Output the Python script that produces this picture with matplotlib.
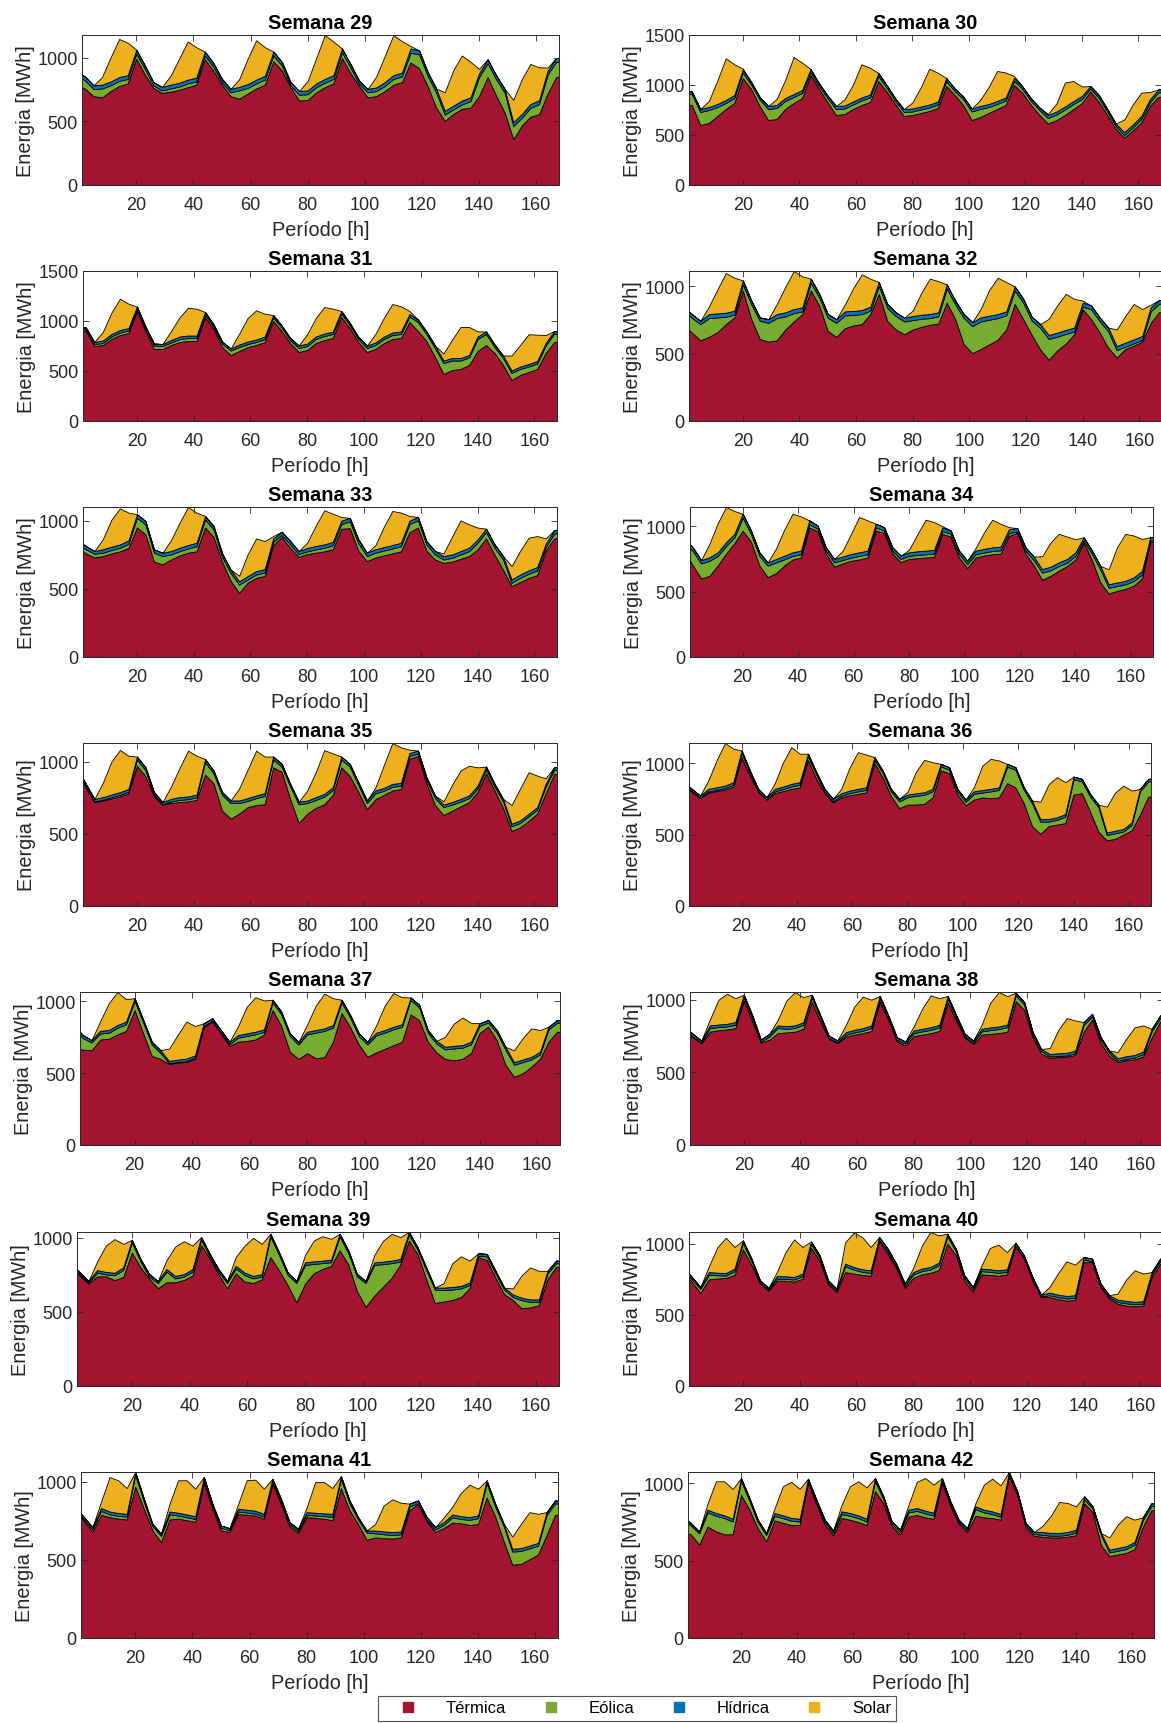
import numpy as np
import matplotlib.pyplot as plt
from matplotlib.lines import Line2D

plt.rcParams['font.family'] = ['Liberation Sans', 'DejaVu Sans']

# Horas de muestreo (cada 3 h) del periodo semanal
horas = np.arange(-1, 171, 3)

# ---- Semana 29 ----
termica_29 = [790,
              760, 700, 690, 740, 780, 800, 995, 870,
              765, 725, 735, 750, 770, 790, 990, 900,
              790, 700, 680, 720, 760, 790, 975, 900,
              770, 665, 670, 730, 770, 800, 1000, 880,
              780, 690, 700, 740, 790, 810, 965, 920,
              780, 610, 505, 560, 600, 610, 700, 850,
              703, 570, 360, 470, 538, 557, 720, 850,
              860]
eolica_29 = [75,
             65, 55, 70, 45, 40, 35, 40, 45,
             20, 20, 25, 25, 30, 25, 30, 32,
             20, 30, 65, 45, 40, 40, 45, 40,
             15, 45, 45, 40, 35, 35, 45, 45,
             17, 40, 40, 40, 45, 45, 75, 110,
             80, 120, 50, 35, 35, 50, 150, 110,
             130, 156, 105, 60, 70, 80, 150, 120,
             110]
hidrica_29 = [30,
              30, 30, 30, 30, 30, 30, 30, 27,
              25, 27, 30, 30, 30, 30, 30, 28,
              25, 27, 28, 30, 30, 30, 30, 28,
              25, 30, 30, 30, 30, 30, 30, 28,
              25, 27, 28, 30, 30, 30, 35, 30,
              30, 30, 30, 30, 30, 30, 30, 30,
              30, 30, 30, 30, 30, 30, 30, 30,
              30]
solar_29 = [0,
            0, 0, 60, 190, 300, 255, 0, 0,
            0, 0, 70, 190, 300, 240, 0, 0,
            0, 0, 60, 200, 310, 225, 0, 0,
            0, 0, 75, 200, 345, 265, 0, 0,
            0, 0, 86, 206, 316, 248, 20, 0,
            0, 0, 145, 280, 355, 280, 35, 0,
            0, 0, 175, 275, 315, 260, 25, 0,
            0]

# ---- Semana 30 ----
termica_30 = [810,
              800, 600, 620, 690, 760, 820, 1070, 960,
              790, 650, 660, 760, 820, 870, 1100, 960,
              830, 700, 710, 760, 800, 830, 1040, 930,
              810, 690, 700, 720, 740, 770, 990, 900,
              800, 650, 680, 720, 760, 800, 1000, 920,
              800, 700, 615, 650, 700, 760, 820, 935,
              830, 700, 560, 475, 545, 625, 790, 880,
              890]
eolica_30 = [110,
             110, 130, 130, 90, 60, 50, 55, 45,
             65, 110, 110, 80, 60, 50, 30, 30,
             40, 60, 55, 45, 45, 45, 50, 40,
             30, 40, 35, 35, 35, 35, 50, 40,
             60, 85, 80, 60, 50, 45, 40, 40,
             40, 50, 55, 55, 55, 50, 40, 30,
             40, 35, 30, 25, 30, 35, 35, 45,
             45]
hidrica_30 = [25,
              25, 30, 30, 30, 30, 30, 30, 25,
              25, 30, 30, 30, 30, 30, 30, 25,
              25, 30, 30, 30, 30, 30, 30, 25,
              25, 30, 30, 30, 30, 30, 30, 25,
              25, 30, 30, 30, 30, 30, 30, 25,
              25, 25, 30, 30, 30, 30, 30, 25,
              30, 25, 25, 30, 30, 30, 30, 30,
              30]
solar_30 = [0,
            0, 0, 60, 233, 417, 307, 10, 0,
            0, 0, 60, 180, 370, 273, 0, 0,
            0, 0, 60, 170, 332, 268, 0, 0,
            0, 0, 60, 192, 358, 288, 0, 0,
            0, 0, 60, 170, 300, 250, 20, 0,
            0, 0, 10, 80, 240, 200, 95, 0,
            0, 0, 0, 125, 200, 233, 75, 0,
            0]

# ---- Semana 31 ----
termica_31 = [900,
              900, 750, 760, 820, 860, 880, 1100, 900,
              720, 720, 760, 790, 800, 800, 1040, 920,
              740, 660, 700, 740, 760, 790, 1000, 900,
              780, 690, 710, 780, 810, 830, 1040, 930,
              790, 690, 720, 780, 820, 830, 990, 900,
              800, 640, 470, 510, 520, 560, 700, 760,
              680, 560, 410, 460, 490, 520, 680, 790,
              780]
eolica_31 = [20,
             15, 20, 20, 25, 25, 25, 20, 25,
             35, 30, 25, 30, 30, 30, 25, 25,
             35, 45, 40, 30, 30, 30, 35, 35,
             30, 40, 40, 40, 40, 40, 35, 30,
             30, 40, 40, 40, 40, 40, 55, 90,
             70, 90, 110, 95, 85, 75, 120, 110,
             60, 70, 70, 60, 55, 55, 75, 85,
             85]
hidrica_31 = [20,
              20, 20, 25, 25, 25, 25, 25, 20,
              20, 20, 25, 25, 25, 25, 25, 20,
              20, 20, 25, 25, 25, 25, 25, 20,
              20, 25, 25, 25, 25, 25, 25, 20,
              20, 25, 25, 25, 25, 25, 25, 25,
              25, 25, 25, 25, 25, 25, 25, 25,
              25, 25, 25, 25, 25, 25, 25, 25,
              25]
solar_31 = [0,
            0, 0, 88, 213, 313, 243, 0, 0,
            0, 0, 90, 192, 278, 268, 0, 0,
            0, 0, 108, 235, 292, 228, 0, 0,
            0, 0, 95, 185, 265, 228, 0, 0,
            0, 0, 85, 188, 285, 252, 30, 0,
            0, 0, 70, 183, 310, 280, 52, 0,
            0, 0, 150, 215, 298, 263, 80, 0,
            0]

# ---- Semana 32 ----
termica_32 = [720,
              657, 600, 625, 660, 720, 770, 970, 757,
              610, 590, 600, 680, 740, 795, 970, 857,
              670, 625, 690, 710, 720, 795, 945, 745,
              680, 645, 680, 700, 715, 725, 880, 757,
              570, 505, 535, 570, 605, 680, 870, 757,
              640, 532, 455, 525, 575, 645, 830, 757,
              657, 545, 472, 535, 560, 590, 730, 810,
              810]
eolica_32 = [105,
             110, 120, 140, 110, 55, 20, 45, 110,
             135, 140, 165, 98, 62, 20, 58, 60,
             97, 105, 95, 78, 75, 25, 58, 97,
             100, 95, 70, 60, 50, 53, 105, 110,
             197, 200, 205, 183, 160, 105, 100, 123,
             107, 160, 155, 102, 72, 20, 20, 73,
             85, 122, 55, 17, 17, 12, 85, 62,
             62]
hidrica_32 = [25,
              28, 25, 30, 30, 30, 30, 30, 28,
              25, 27, 30, 30, 30, 30, 30, 28,
              28, 27, 30, 30, 30, 30, 30, 28,
              28, 28, 30, 30, 30, 30, 30, 28,
              28, 30, 30, 30, 30, 30, 30, 28,
              28, 28, 30, 30, 30, 30, 30, 28,
              28, 28, 30, 30, 30, 30, 30, 28,
              28]
solar_32 = [0,
            0, 0, 55, 177, 295, 245, 0, 0,
            0, 0, 75, 190, 283, 230, 0, 0,
            0, 0, 50, 172, 265, 208, 0, 0,
            0, 0, 42, 162, 263, 232, 0, 0,
            0, 0, 65, 192, 270, 218, 0, 0,
            0, 0, 120, 203, 268, 213, 15, 0,
            0, 0, 123, 198, 263, 200, 20, 0,
            0]

# ---- Semana 33 ----
termica_33 = [800,
              760, 730, 740, 760, 775, 800, 950, 900,
              700, 680, 715, 745, 765, 775, 950, 880,
              700, 560, 470, 545, 580, 595, 820, 880,
              800, 735, 755, 765, 775, 790, 940, 945,
              780, 703, 730, 745, 760, 775, 915, 949,
              780, 715, 690, 700, 720, 740, 790, 870,
              750, 640, 520, 550, 580, 600, 780, 870,
              880]
eolica_33 = [30,
             30, 27, 25, 24, 26, 30, 72, 72,
             65, 60, 37, 31, 31, 38, 59, 56,
             35, 57, 61, 23, 25, 25, 25, 15,
             26, 20, 20, 24, 26, 30, 35, 50,
             55, 37, 35, 36, 36, 38, 60, 53,
             45, 37, 25, 27, 32, 36, 48, 46,
             51, 75, 24, 30, 30, 35, 25, 35,
             35]
hidrica_33 = [25,
              24, 20, 25, 25, 25, 25, 25, 25,
              24, 25, 25, 25, 25, 25, 25, 25,
              25, 25, 25, 25, 25, 25, 25, 24,
              25, 22, 25, 25, 25, 25, 25, 25,
              28, 25, 25, 25, 25, 25, 25, 25,
              25, 25, 25, 25, 25, 25, 25, 25,
              25, 25, 25, 25, 25, 25, 25, 25,
              25]
solar_33 = [0,
            0, 0, 75, 198, 264, 204, 0, 0,
            0, 0, 80, 184, 279, 221, 0, 0,
            0, 0, 40, 160, 240, 205, 17, 0,
            0, 0, 40, 150, 250, 206, 27, 0,
            0, 0, 30, 150, 250, 221, 34, 0,
            0, 0, 20, 130, 225, 172, 86, 0,
            0, 0, 98, 174, 240, 227, 40, 0,
            0]

# ---- Semana 34 ----
termica_34 = [810,
              700, 600, 620, 700, 790, 870, 965, 880,
              700, 610, 640, 700, 745, 760, 990, 960,
              790, 690, 715, 735, 745, 760, 965, 950,
              790, 725, 750, 755, 760, 765, 940, 920,
              760, 680, 760, 775, 785, 790, 925, 950,
              790, 700, 590, 620, 660, 695, 745, 875,
              740, 570, 485, 505, 520, 545, 600, 880,
              890]
eolica_34 = [70,
             110, 115, 115, 72, 59, 43, 100, 60,
             73, 88, 82, 46, 27, 25, 25, 20,
             22, 34, 25, 24, 27, 25, 25, 17,
             22, 24, 23, 25, 25, 25, 22, 22,
             27, 31, 25, 23, 25, 25, 22, 10,
             22, 40, 55, 42, 35, 26, 27, 15,
             48, 100, 44, 37, 35, 35, 30, 10,
             10]
hidrica_34 = [25,
              28, 25, 27, 28, 28, 28, 30, 27,
              27, 25, 27, 28, 28, 28, 29, 25,
              26, 25, 27, 28, 28, 28, 28, 25,
              26, 25, 27, 28, 28, 28, 28, 25,
              26, 25, 28, 28, 28, 28, 28, 25,
              26, 27, 27, 28, 28, 28, 28, 25,
              25, 27, 27, 27, 27, 28, 28, 25,
              25]
solar_34 = [0,
            0, 0, 102, 223, 269, 174, 0, 0,
            0, 0, 79, 200, 295, 261, 0, 0,
            0, 0, 43, 151, 269, 231, 0, 0,
            0, 0, 20, 130, 236, 213, 10, 0,
            0, 0, 20, 125, 211, 175, 17, 0,
            0, 0, 98, 184, 218, 171, 100, 0,
            0, 0, 114, 269, 359, 320, 244, 0,
            0]

# ---- Semana 35 ----
termica_35 = [930,
              820, 720, 730, 745, 760, 780, 970, 900,
              760, 700, 715, 720, 725, 735, 910, 850,
              660, 605, 640, 685, 700, 705, 960, 930,
              740, 575, 640, 680, 705, 770, 960, 900,
              790, 670, 740, 770, 800, 810, 1020, 1040,
              850, 700, 630, 660, 690, 720, 790, 920,
              800, 680, 520, 545, 590, 640, 780, 915,
              920]
eolica_35 = [5,
             8, 5, 6, 9, 10, 12, 45, 40,
             10, 5, 9, 15, 15, 18, 88, 68,
             110, 108, 73, 43, 47, 58, 55, 35,
             88, 130, 73, 55, 53, 34, 55, 65,
             48, 43, 40, 28, 26, 23, 20, 16,
             23, 48, 55, 42, 33, 27, 25, 27,
             27, 45, 32, 30, 31, 27, 48, 28,
             28]
hidrica_35 = [15,
              18, 17, 18, 18, 19, 19, 20, 21,
              19, 15, 18, 19, 19, 19, 20, 20,
              19, 18, 18, 19, 19, 19, 20, 19,
              18, 17, 18, 19, 19, 19, 20, 19,
              19, 18, 20, 20, 20, 20, 20, 20,
              19, 18, 18, 18, 19, 19, 19, 19,
              19, 17, 18, 18, 18, 18, 18, 18,
              18]
solar_35 = [0,
            0, 0, 101, 228, 292, 230, 0, 0,
            0, 0, 86, 202, 317, 269, 0, 0,
            0, 0, 83, 198, 310, 253, 0, 0,
            0, 0, 69, 173, 303, 234, 0, 0,
            0, 0, 20, 159, 283, 246, 23, 0,
            0, 0, 22, 119, 196, 206, 126, 0,
            0, 0, 130, 221, 288, 218, 39, 0,
            0]

# ---- Semana 36 ----
termica_36 = [850,
              800, 755, 795, 805, 815, 835, 1040, 910,
              800, 745, 790, 805, 820, 830, 1020, 890,
              790, 725, 760, 775, 785, 795, 1000, 900,
              770, 685, 710, 710, 715, 760, 950, 930,
              780, 705, 745, 760, 755, 760, 860, 830,
              720, 560, 505, 560, 570, 580, 780, 790,
              660, 520, 460, 470, 500, 530, 640, 765,
              775]
eolica_36 = [5,
             5, 3, 7, 8, 10, 14, 30, 22,
             5, 2, 12, 13, 17, 19, 28, 30,
             12, 8, 11, 15, 17, 18, 24, 32,
             33, 48, 52, 61, 63, 42, 27, 25,
             22, 24, 40, 34, 47, 53, 115, 125,
             93, 160, 86, 31, 33, 46, 108, 82,
             107, 172, 37, 39, 21, 38, 162, 107,
             100]
hidrica_36 = [15,
              15, 15, 18, 18, 18, 18, 19, 17,
              15, 14, 18, 18, 18, 18, 18, 17,
              18, 17, 18, 18, 18, 18, 18, 17,
              17, 17, 18, 18, 18, 18, 18, 17,
              18, 16, 18, 18, 18, 18, 20, 17,
              18, 18, 18, 18, 18, 18, 18, 18,
              18, 18, 18, 18, 18, 18, 18, 18,
              18]
solar_36 = [0,
            0, 0, 60, 190, 298, 234, 0, 0,
            0, 0, 40, 170, 257, 199, 0, 0,
            0, 0, 30, 160, 257, 230, 0, 0,
            0, 0, 20, 150, 227, 187, 0, 0,
            0, 0, 30, 170, 210, 188, 0, 0,
            0, 0, 121, 243, 281, 223, 0, 0,
            0, 0, 180, 267, 304, 222, 0, 0,
            0]

# ---- Semana 37 ----
termica_37 = [670,
              665, 660, 735, 740, 770, 795, 940, 778,
              620, 600, 565, 575, 580, 600, 820, 860,
              780, 690, 720, 725, 735, 770, 940, 830,
              650, 600, 640, 605, 612, 720, 920, 820,
              700, 615, 645, 670, 695, 720, 910, 870,
              720, 645, 600, 590, 600, 640, 780, 825,
              730, 560, 475, 500, 545, 600, 720, 790,
              780]
eolica_37 = [140,
             80, 55, 42, 42, 47, 46, 64, 75,
             80, 42, 5, 4, 5, 8, 10, 6,
             4, 12, 28, 35, 36, 18, 54, 82,
             110, 100, 131, 178, 183, 98, 74, 68,
             60, 86, 119, 113, 111, 103, 100, 89,
             63, 63, 66, 83, 78, 61, 50, 28,
             53, 106, 85, 77, 51, 31, 86, 63,
             70]
hidrica_37 = [20,
              21, 16, 19, 19, 19, 19, 19, 18,
              19, 18, 16, 16, 17, 17, 18, 17,
              17, 17, 18, 18, 18, 18, 18, 18,
              18, 18, 18, 18, 18, 18, 18, 18,
              18, 18, 18, 18, 18, 18, 18, 18,
              18, 18, 18, 18, 18, 18, 18, 18,
              18, 18, 18, 18, 18, 18, 18, 18,
              18]
solar_37 = [0,
            0, 0, 66, 187, 230, 156, 0, 0,
            0, 0, 86, 173, 258, 204, 0, 0,
            0, 0, 63, 185, 241, 201, 0, 0,
            0, 0, 50, 170, 241, 187, 0, 0,
            0, 0, 50, 170, 235, 189, 0, 0,
            0, 0, 70, 154, 192, 133, 0, 0,
            0, 0, 82, 150, 199, 152, 0, 0,
            0]

# ---- Semana 38 ----
termica_38 = [790,
              740, 700, 780, 790, 795, 805, 995, 850,
              705, 725, 770, 775, 780, 800, 985, 850,
              730, 700, 745, 760, 770, 785, 985, 860,
              715, 685, 750, 760, 770, 785, 980, 855,
              740, 695, 760, 765, 770, 780, 990, 930,
              740, 630, 600, 605, 608, 620, 780, 865,
              700, 615, 570, 585, 590, 610, 740, 850,
              850]
eolica_38 = [10,
             8, 5, 25, 21, 21, 23, 21, 24,
             6, 22, 35, 25, 25, 28, 31, 24,
             8, 5, 13, 15, 16, 20, 22, 14,
             10, 13, 20, 22, 23, 24, 27, 19,
             8, 10, 22, 26, 28, 31, 40, 36,
             18, 17, 10, 8, 8, 12, 48, 20,
             24, 20, 10, 8, 12, 15, 42, 24,
             24]
hidrica_38 = [15,
              17, 14, 18, 18, 18, 18, 18, 18,
              15, 18, 18, 18, 18, 18, 18, 18,
              15, 14, 18, 18, 18, 18, 18, 18,
              17, 14, 18, 18, 18, 18, 18, 18,
              17, 14, 18, 18, 18, 18, 18, 18,
              18, 14, 17, 18, 18, 18, 18, 18,
              18, 15, 17, 18, 18, 18, 18, 18,
              18]
solar_38 = [0,
            0, 0, 40, 170, 207, 165, 0, 0,
            0, 0, 40, 175, 230, 172, 0, 0,
            0, 0, 50, 160, 217, 177, 0, 0,
            0, 0, 30, 140, 219, 184, 0, 0,
            0, 0, 30, 170, 237, 196, 0, 0,
            0, 0, 40, 160, 239, 207, 0, 0,
            0, 0, 43, 120, 190, 180, 0, 0,
            0]

# ---- Semana 39 ----
termica_39 = [800,
              745, 690, 740, 740, 715, 735, 900, 800,
              725, 660, 700, 700, 715, 745, 950, 860,
              755, 660, 760, 705, 695, 720, 870, 780,
              680, 565, 690, 760, 790, 810, 915, 820,
              640, 535, 610, 670, 730, 820, 980, 890,
              720, 560, 570, 580, 600, 660, 870, 850,
              730, 620, 580, 525, 530, 545, 720, 805,
              800]
eolica_39 = [10,
             8, 7, 25, 13, 32, 48, 69, 40,
             13, 35, 72, 26, 23, 27, 38, 14,
             17, 35, 34, 44, 31, 18, 140, 105,
             70, 130, 127, 64, 39, 25, 95, 77,
             100, 160, 207, 152, 99, 20, 42, 29,
             63, 90, 77, 71, 58, 21, 9, 24,
             30, 30, 21, 54, 37, 22, 40, 24,
             25]
hidrica_39 = [14,
              13, 12, 17, 17, 17, 17, 17, 17,
              17, 14, 17, 17, 17, 17, 17, 17,
              17, 14, 17, 17, 17, 17, 17, 17,
              16, 14, 17, 17, 17, 17, 17, 17,
              15, 14, 17, 17, 17, 17, 17, 17,
              17, 14, 17, 17, 17, 17, 17, 17,
              17, 14, 17, 17, 17, 17, 17, 17,
              17]
solar_39 = [0,
            0, 0, 60, 178, 227, 159, 0, 0,
            0, 0, 60, 198, 222, 159, 0, 0,
            0, 0, 60, 180, 257, 204, 0, 0,
            0, 0, 50, 140, 165, 141, 0, 0,
            0, 0, 50, 140, 181, 148, 0, 0,
            0, 0, 30, 160, 200, 148, 0, 0,
            0, 0, 40, 150, 216, 193, 0, 0,
            0]

# ---- Semana 40 ----
termica_40 = [810,
              730, 655, 750, 755, 760, 780, 960, 850,
              720, 670, 740, 740, 733, 755, 970, 880,
              715, 660, 800, 790, 780, 775, 1020, 930,
              830, 690, 760, 785, 795, 815, 1000, 920,
              740, 665, 785, 780, 775, 785, 985, 895,
              740, 625, 625, 610, 600, 605, 870, 870,
              695, 615, 578, 565, 560, 565, 765, 860,
              860]
eolica_40 = [15,
             20, 27, 33, 23, 16, 27, 45, 27,
             8, 6, 15, 13, 15, 17, 28, 20,
             12, 10, 42, 28, 22, 20, 9, 17,
             12, 14, 23, 22, 23, 34, 52, 27,
             20, 17, 22, 22, 20, 17, 4, 5,
             8, 4, 13, 14, 15, 15, 18, 7,
             8, 10, 12, 16, 14, 14, 19, 18,
             18]
hidrica_40 = [15,
              16, 14, 18, 18, 18, 18, 18, 18,
              15, 13, 18, 18, 18, 18, 18, 18,
              16, 14, 18, 18, 18, 18, 18, 18,
              18, 16, 18, 18, 18, 18, 18, 18,
              18, 14, 18, 18, 18, 18, 18, 18,
              18, 13, 18, 18, 18, 18, 18, 18,
              17, 13, 17, 17, 17, 17, 17, 17,
              17]
solar_40 = [0,
            0, 0, 40, 180, 248, 152, 0, 0,
            0, 0, 30, 170, 264, 187, 0, 0,
            0, 0, 150, 241, 227, 164, 0, 0,
            0, 0, 30, 160, 246, 191, 0, 0,
            0, 0, 20, 150, 180, 121, 0, 0,
            0, 0, 40, 150, 243, 215, 0, 0,
            0, 0, 43, 150, 222, 194, 0, 0,
            0]

# ---- Semana 41 ----
termica_41 = [820,
              750, 680, 790, 775, 765, 760, 970, 830,
              690, 615, 760, 765, 755, 745, 995, 830,
              690, 680, 795, 790, 785, 765, 990, 860,
              715, 675, 775, 770, 765, 755, 960, 820,
              730, 630, 645, 640, 638, 645, 820, 860,
              750, 680, 705, 740, 735, 725, 730, 900,
              780, 620, 470, 475, 505, 535, 660, 790,
              780]
eolica_41 = [10,
             10, 17, 25, 18, 18, 18, 76, 45,
             27, 40, 33, 20, 19, 18, 19, 13,
             16, 11, 16, 14, 13, 13, 13, 15,
             12, 12, 14, 15, 16, 23, 60, 44,
             30, 45, 26, 25, 23, 20, 23, 4,
             7, 16, 20, 34, 28, 32, 38, 93,
             63, 97, 84, 83, 70, 57, 129, 74,
             75]
hidrica_41 = [14,
              15, 14, 18, 18, 18, 18, 18, 18,
              15, 13, 18, 18, 18, 18, 18, 18,
              15, 13, 18, 18, 18, 18, 18, 18,
              16, 13, 18, 18, 18, 18, 18, 18,
              15, 14, 18, 18, 18, 18, 18, 18,
              18, 15, 18, 18, 18, 18, 18, 18,
              18, 15, 18, 18, 18, 18, 18, 18,
              18]
solar_41 = [0,
            0, 0, 40, 221, 210, 165, 0, 0,
            0, 0, 50, 208, 219, 176, 0, 0,
            0, 0, 30, 189, 199, 161, 0, 0,
            0, 0, 30, 197, 201, 165, 0, 0,
            0, 0, 43, 167, 210, 184, 0, 0,
            0, 0, 30, 50, 150, 208, 171, 0,
            0, 0, 78, 156, 214, 186, 0, 0,
            0]

# ---- Semana 42 ----
termica_42 = [690,
              670, 605, 720, 690, 670, 670, 925, 830,
              710, 625, 760, 745, 730, 730, 1005, 865,
              735, 665, 775, 765, 750, 730, 950, 870,
              725, 670, 785, 795, 780, 770, 1005, 855,
              740, 685, 790, 780, 775, 765, 1050, 925,
              715, 660, 655, 650, 650, 655, 665, 870,
              815, 600, 530, 540, 550, 575, 720, 825,
              830]
eolica_42 = [80,
             58, 72, 92, 100, 105, 83, 91, 57,
             40, 41, 30, 30, 28, 23, 7, 11,
             15, 16, 26, 25, 25, 23, 66, 28,
             14, 17, 27, 27, 25, 22, 11, 11,
             10, 13, 43, 32, 26, 19, 5, 5,
             13, 12, 12, 11, 11, 12, 17, 28,
             20, 65, 23, 24, 25, 28, 42, 27,
             27]
hidrica_42 = [15,
              15, 13, 18, 18, 18, 18, 18, 18,
              15, 13, 18, 18, 18, 18, 18, 18,
              15, 13, 18, 18, 18, 18, 18, 18,
              15, 13, 18, 18, 18, 18, 18, 18,
              15, 13, 18, 18, 18, 18, 18, 18,
              15, 13, 18, 18, 18, 18, 18, 18,
              16, 14, 18, 18, 18, 18, 18, 18,
              18]
solar_42 = [0,
            0, 0, 40, 205, 220, 192, 0, 0,
            0, 0, 30, 188, 233, 194, 0, 0,
            0, 0, 40, 173, 220, 203, 0, 0,
            0, 0, 30, 170, 211, 181, 0, 0,
            0, 0, 20, 161, 211, 185, 0, 0,
            0, 0, 40, 110, 200, 188, 151, 0,
            0, 0, 79, 151, 194, 144, 0, 0,
            0]

fuentes = ['Térmica', 'Eólica', 'Hídrica', 'Solar']
colores = ['#A2142F', '#77AC30', '#0072BD', '#EDB120']

datos = {
    29: (termica_29, eolica_29, hidrica_29, solar_29),
    30: (termica_30, eolica_30, hidrica_30, solar_30),
    31: (termica_31, eolica_31, hidrica_31, solar_31),
    32: (termica_32, eolica_32, hidrica_32, solar_32),
    33: (termica_33, eolica_33, hidrica_33, solar_33),
    34: (termica_34, eolica_34, hidrica_34, solar_34),
    35: (termica_35, eolica_35, hidrica_35, solar_35),
    36: (termica_36, eolica_36, hidrica_36, solar_36),
    37: (termica_37, eolica_37, hidrica_37, solar_37),
    38: (termica_38, eolica_38, hidrica_38, solar_38),
    39: (termica_39, eolica_39, hidrica_39, solar_39),
    40: (termica_40, eolica_40, hidrica_40, solar_40),
    41: (termica_41, eolica_41, hidrica_41, solar_41),
    42: (termica_42, eolica_42, hidrica_42, solar_42),
}

# posiciones de los ejes en pixeles: (x0, x1, y_arriba, y_abajo)
W, H = 1161, 1724
filas = [(36, 186), (272, 422), (508, 658), (744, 907),
         (993, 1146), (1233, 1387), (1473, 1639)]
cols_x = {
    29: (82, 559), 30: (689, 1161),
    31: (83, 557), 32: (689, 1162),
    33: (83, 557), 34: (690, 1153),
    35: (83, 557), 36: (689, 1151),
    37: (80, 560), 38: (690, 1163),
    39: (77, 559), 40: (689, 1163),
    41: (81, 558), 42: (688, 1154),
}
ylim_fijo = {30: 1500, 31: 1500}

fig = plt.figure(figsize=(W / 100, H / 100), dpi=100)

for i, semana in enumerate(range(29, 43)):
    y0, y1 = filas[i // 2]
    x0, x1 = cols_x[semana]
    ax = fig.add_axes([x0 / W, 1 - y1 / H, (x1 - x0) / W, (y1 - y0) / H])
    serie = [np.array(s, dtype=float) for s in datos[semana]]
    ax.stackplot(horas, *serie, colors=colores, edgecolor='black', linewidth=0.6)
    total = np.sum(serie, axis=0)
    ax.set_xlim(1, 168)
    ax.set_ylim(0, ylim_fijo.get(semana, total.max()))
    ax.set_xticks(range(20, 161, 20))
    ax.set_yticks(range(0, int(ax.get_ylim()[1]) + 1, 500))
    ax.tick_params(direction='in', top=True, right=True, length=4, width=0.6,
                   labelsize=13, colors='#262626')
    ax.tick_params(axis='x', pad=8)
    ax.tick_params(axis='y', pad=3)
    for sp in ax.spines.values():
        sp.set_color('#262626')
        sp.set_linewidth(0.7)
    ax.set_title(f'Semana {semana}', fontsize=14.3, fontweight='bold', pad=5)
    ax.set_xlabel('Período [h]', fontsize=14.3, color='#262626', labelpad=5)
    ax.set_ylabel('Energia [MWh]', fontsize=14.3, color='#262626', labelpad=2)

handles = [Line2D([], [], marker='s', ls='none', markersize=7.5,
                  markerfacecolor=c, markeredgecolor=c) for c in colores]
leg = fig.legend(handles, fuentes, loc='center', ncol=4,
                 bbox_to_anchor=(637 / W, 1 - 1709 / H), fontsize=12,
                 frameon=True, fancybox=False, borderpad=0.3,
                 handlelength=3.0, handletextpad=0.78, columnspacing=1.16)
leg.get_frame().set_edgecolor('#262626')
leg.get_frame().set_linewidth(0.8)

fig.savefig('out.png', dpi=100)
